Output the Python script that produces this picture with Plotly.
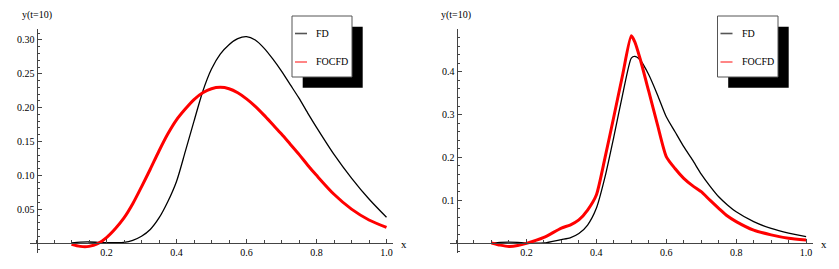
import plotly.graph_objects as go

W, H = 839, 269

# ---------------- data ----------------
x_left = [0.10, 0.125, 0.15, 0.175, 0.20, 0.225, 0.25, 0.275, 0.30, 0.325, 0.35, 0.375, 0.40, 0.425, 0.45, 0.475, 0.50,
          0.525, 0.55, 0.575, 0.60, 0.625, 0.65, 0.675, 0.70, 0.725, 0.75, 0.775, 0.80, 0.85, 0.90, 0.95, 1.00]
fd_left = [0.000, 0.0012, 0.0015, 0.0010, 0.0004, 0.0005, 0.001, 0.004, 0.010, 0.020, 0.037, 0.061, 0.091, 0.135, 0.180, 0.224, 0.257,
           0.279, 0.293, 0.302, 0.305, 0.300, 0.288, 0.272, 0.254, 0.234, 0.214, 0.192, 0.171, 0.131, 0.096, 0.065, 0.038]
focfd_left = [-0.002, -0.005, -0.005, -0.001, 0.008, 0.021, 0.037, 0.058, 0.083, 0.109, 0.136, 0.161, 0.182, 0.198, 0.212, 0.222, 0.228,
              0.230, 0.228, 0.222, 0.213, 0.202, 0.189, 0.175, 0.161, 0.146, 0.131, 0.115, 0.100, 0.072, 0.050, 0.034, 0.023]

x_right = [0.10, 0.125, 0.15, 0.175, 0.20, 0.25, 0.30, 0.325, 0.35, 0.375, 0.40, 0.425, 0.45, 0.475, 0.50,
           0.51, 0.525, 0.55, 0.575, 0.60, 0.625, 0.65, 0.675, 0.70, 0.725, 0.75, 0.775, 0.80, 0.85, 0.90, 0.95, 1.00]
fd_right = [0.000, 0.0015, 0.002, 0.0015, 0.000, 0.000, 0.008, 0.012, 0.022, 0.042, 0.081, 0.155, 0.248, 0.346, 0.432,
            0.436, 0.428, 0.393, 0.346, 0.295, 0.260, 0.225, 0.194, 0.161, 0.133, 0.108, 0.089, 0.073, 0.050, 0.034, 0.023, 0.015]
focfd_right = [0.000, -0.005, -0.008, -0.006, -0.001, 0.013, 0.035, 0.042, 0.054, 0.077, 0.112, 0.200, 0.295, 0.392, 0.484,
               0.470, 0.431, 0.354, 0.276, 0.202, 0.174, 0.151, 0.134, 0.120, 0.100, 0.081, 0.063, 0.050, 0.030, 0.019, 0.011, 0.007]

left_yticks = [0.05, 0.10, 0.15, 0.20, 0.25, 0.30]
left_ytext = ["0.05", "0.10", "0.15", "0.20", "0.25", "0.30"]
right_yticks = [0.1, 0.2, 0.3, 0.4]
right_ytext = ["0.1", "0.2", "0.3", "0.4"]
xticks = [0.2, 0.4, 0.6, 0.8, 1.0]
xtext = ["0.2", "0.4", "0.6", "0.8", "1.0"]
series_names = ["FD", "FOCFD"]
y_label = "y(t=10)"
x_label = "x"

FONT = "Liberation Serif"
AX = "#444444"


def px(x):
    return x / W


def py(y):
    return 1 - y / H


fig = go.Figure()

fig.add_trace(go.Scatter(x=x_left, y=fd_left, mode="lines", name=series_names[0],
                         line=dict(color="black", width=1.3, shape="spline", smoothing=0.8),
                         xaxis="x", yaxis="y", showlegend=False))
fig.add_trace(go.Scatter(x=x_left, y=focfd_left, mode="lines", name=series_names[1],
                         line=dict(color="#ff0000", width=3, shape="spline", smoothing=0.8),
                         xaxis="x", yaxis="y", showlegend=False))
fig.add_trace(go.Scatter(x=x_right, y=fd_right, mode="lines", name=series_names[0],
                         line=dict(color="black", width=1.3, shape="spline", smoothing=0.6),
                         xaxis="x2", yaxis="y2", showlegend=False))
fig.add_trace(go.Scatter(x=x_right, y=focfd_right, mode="lines", name=series_names[1],
                         line=dict(color="#ff0000", width=3, shape="spline", smoothing=0.6),
                         xaxis="x2", yaxis="y2", showlegend=False))


def xaxis_cfg(d0, d1, r0, r1, pos):
    return dict(domain=[px(d0), px(d1)], range=[r0, r1], anchor="free", position=pos,
                showline=True, linecolor=AX, linewidth=1, showgrid=False, zeroline=False,
                tickmode="array", tickvals=xticks, ticktext=xtext, ticks="inside", ticklen=4,
                tickcolor=AX, tickfont=dict(family=FONT, size=10, color="black"),
                minor=dict(tickmode="linear", tick0=0, dtick=0.05, ticks="inside", ticklen=3,
                           tickcolor=AX, showgrid=False))


def yaxis_cfg(d0, d1, r0, r1, pos, tv, tt, mdt):
    return dict(domain=[py(d1), py(d0)], range=[r0, r1], anchor="free", position=pos,
                showline=True, linecolor=AX, linewidth=1, showgrid=False, zeroline=False,
                tickmode="array", tickvals=tv, ticktext=tt, ticks="inside", ticklen=4,
                tickcolor=AX, tickfont=dict(family=FONT, size=10, color="black"),
                minor=dict(tickmode="linear", tick0=0, dtick=mdt, ticks="inside", ticklen=2.5,
                           tickcolor=AX, showgrid=False))


# left panel geometry (pixels)
LX0, LX1, LSCALE, LZERO = 30, 393, 350.0, 36.5
LY0, LY1, LYSCALE, LYZERO = 29.3, 253, 676.7, 243
# right panel geometry
RX0, RX1, RSCALE, RZERO = 450, 813, 349.6, 456.5
RY0, RY1, RYSCALE, RYZERO = 29.3, 253, 428.0, 243

fig.update_layout(
    xaxis=xaxis_cfg(LX0, LX1, (LX0 - LZERO) / LSCALE, (LX1 - LZERO) / LSCALE, py(LYZERO)),
    yaxis=yaxis_cfg(LY0, LY1, (LYZERO - LY1) / LYSCALE, (LYZERO - LY0) / LYSCALE, px(LZERO),
                    left_yticks, left_ytext, 0.01),
    xaxis2=xaxis_cfg(RX0, RX1, (RX0 - RZERO) / RSCALE, (RX1 - RZERO) / RSCALE, py(RYZERO)),
    yaxis2=yaxis_cfg(RY0, RY1, (RYZERO - RY1) / RYSCALE, (RYZERO - RY0) / RYSCALE, px(RZERO),
                     right_yticks, right_ytext, 0.02),
)

shapes = []
annotations = []


def add_legend(bx0, by0, bx1, by1, off, sample_x0, text_x):
    shapes.append(dict(type="rect", xref="paper", yref="paper",
                       x0=px(bx0 + off), x1=px(bx1 + off), y0=py(by1 + off), y1=py(by0 + off),
                       fillcolor="black", line=dict(width=0)))
    shapes.append(dict(type="rect", xref="paper", yref="paper",
                       x0=px(bx0), x1=px(bx1), y0=py(by1), y1=py(by0),
                       fillcolor="white", line=dict(color="#555555", width=1)))
    for name, col, yy in [(series_names[0], "#555555", 33.5), (series_names[1], "#ff6666", 62)]:
        shapes.append(dict(type="line", xref="paper", yref="paper",
                           x0=px(sample_x0), x1=px(sample_x0 + 12), y0=py(yy), y1=py(yy),
                           line=dict(color=col, width=1.6)))
        annotations.append(dict(x=px(text_x), y=py(yy), xref="paper", yref="paper", text=name,
                                showarrow=False, xanchor="left", yanchor="middle",
                                font=dict(family=FONT, size=10, color="black")))


add_legend(292, 16, 352, 77, 10.7, 295, 314)
add_legend(717.5, 16, 778, 77, 10.7, 720.5, 739.5)

for cx in (LZERO, RZERO):
    annotations.append(dict(x=px(cx), y=py(15), xref="paper", yref="paper", text=y_label,
                            showarrow=False, xanchor="center", yanchor="middle",
                            font=dict(family=FONT, size=10, color="black")))
for ax in (404, 824):
    annotations.append(dict(x=px(ax), y=py(243.5), xref="paper", yref="paper", text=x_label,
                            showarrow=False, xanchor="center", yanchor="middle",
                            font=dict(family=FONT, size=11, color="black")))

fig.update_layout(width=W, height=H, margin=dict(l=0, r=0, t=0, b=0),
                  paper_bgcolor="white", plot_bgcolor="white",
                  font=dict(family=FONT, size=10, color="black"),
                  showlegend=False, shapes=shapes, annotations=annotations)

fig.write_html("out.html", config={"displayModeBar": False},
               post_script="document.body.style.margin='0';document.body.style.overflow='hidden';")
